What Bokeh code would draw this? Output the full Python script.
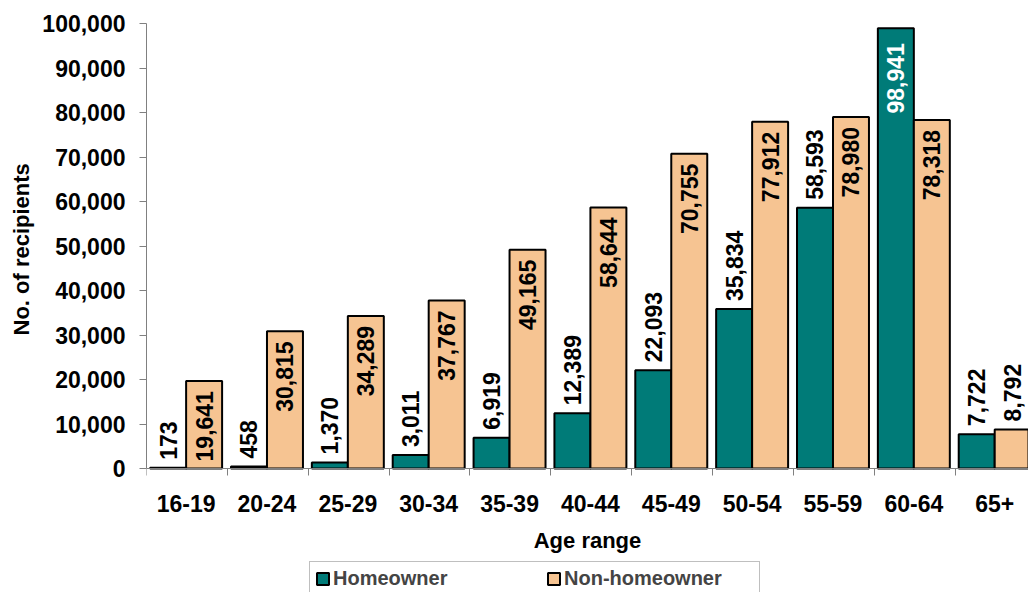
import math
from bokeh.plotting import figure
from bokeh.models import (ColumnDataSource, Range1d, FixedTicker, NumeralTickFormatter,
                          Legend, LegendItem, LinearAxis, Title)
from bokeh.core.properties import value
from bokeh.embed import file_html
from bokeh.resources import INLINE

# ---- data ----
categories = ["16-19", "20-24", "25-29", "30-34", "35-39", "40-44",
              "45-49", "50-54", "55-59", "60-64", "65+"]
homeowner = [173, 458, 1370, 3011, 6919, 12389, 22093, 35834, 58593, 98941, 7722]
non_homeowner = [19641, 30815, 34289, 37767, 49165, 58644, 70755, 77912, 78980, 78318, 8792]
y_ticks = [0, 10000, 20000, 30000, 40000, 50000, 60000, 70000, 80000, 90000, 100000]

TEAL = "#007B78"
TAN = "#F6C492"
FONT = "Liberation Sans"
AXIS_GREY = "#808080"

n = len(categories)
centers = [i + 0.49 for i in range(n)]
bar_w = 0.445
y_max = 100000
# the frame runs to the bottom of the page; the x axis sits at y = 0
y_min = -y_max * (592 - 468) / 445

p = figure(width=1028, height=592, output_backend="svg", toolbar_location=None,
           x_range=Range1d(0, 10.908), y_range=Range1d(y_min, y_max),
           x_axis_location=None,
           min_border_left=146, min_border_right=0, min_border_top=23,
           min_border_bottom=0)
p.outline_line_color = None
p.xgrid.visible = False
p.ygrid.visible = False
p.background_fill_color = "white"
p.border_fill_color = "white"

src_h = ColumnDataSource(dict(x=[c - bar_w / 2 for c in centers], top=homeowner))
src_n = ColumnDataSource(dict(x=[c + bar_w / 2 for c in centers], top=non_homeowner))
r_h = p.vbar(x="x", top="top", bottom=0, width=bar_w, source=src_h, fill_color=TEAL,
             line_color="black", line_width=2)
r_n = p.vbar(x="x", top="top", bottom=0, width=bar_w, source=src_n, fill_color=TAN,
             line_color="black", line_width=2)


def label_source(xs, vals, inside_rule, inside_color, inside_off):
    txt, align, off, col = [], [], [], []
    for v in vals:
        inside = inside_rule(v)
        txt.append(f"{v:,}")
        align.append("right" if inside else "left")
        off.append(inside_off if inside else -8)
        col.append(inside_color if inside else "black")
    return ColumnDataSource(dict(x=xs, y=vals, text=txt, align=align, off=off, col=col))


lab_h = label_source(src_h.data["x"], homeowner, lambda v: v > 90000, "white", 15)
lab_n = label_source(src_n.data["x"], non_homeowner, lambda v: v > 15000, "black", 10)
for src in (lab_h, lab_n):
    p.text(x="x", y="y", text="text", source=src, angle=math.pi / 2,
           text_align="align", text_baseline="middle", y_offset="off",
           text_color="col", text_font=value(FONT), text_font_style="bold",
           text_font_size="23px")

# ---- axes ----
xaxis = LinearAxis(fixed_location=0)
xaxis.ticker = FixedTicker(ticks=centers, minor_ticks=list(range(n + 1)))
xaxis.major_label_overrides = {c: cat for c, cat in zip(centers, categories)}
xaxis.major_tick_out = 0
xaxis.major_tick_in = 0
xaxis.minor_tick_out = 7
xaxis.minor_tick_in = 0
xaxis.major_label_standoff = 19
xaxis.axis_label = "Age range"
xaxis.axis_label_standoff = 13
p.add_layout(xaxis, "below")

p.yaxis.ticker = FixedTicker(ticks=y_ticks)
p.yaxis.formatter = NumeralTickFormatter(format="0,0")
p.yaxis.bounds = (0, y_max)
p.yaxis.major_tick_out = 7
p.yaxis.major_tick_in = 0
p.yaxis.major_label_standoff = 14

for ax in (xaxis, p.yaxis[0]):
    ax.axis_line_color = AXIS_GREY
    ax.major_tick_line_color = AXIS_GREY
    ax.minor_tick_line_color = AXIS_GREY
    ax.major_label_text_font = FONT
    ax.major_label_text_font_style = "bold"
    ax.major_label_text_font_size = "23px"
    ax.major_label_text_color = "black"
    ax.axis_label_text_font = FONT
    ax.axis_label_text_font_style = "bold"
    ax.axis_label_text_font_size = "22px"
    ax.axis_label_text_color = "black"
p.yaxis.minor_tick_line_color = None

# y axis title, placed along the 0..100,000 part of the axis
ytitle = Title(text="No. of recipients", align="left", offset=257, standoff=11,
               text_font=FONT, text_font_style="bold", text_font_size="22px",
               text_color="black")
p.add_layout(ytitle, "left")

# ---- legend ----
legend = Legend(items=[LegendItem(label="Homeowner", renderers=[r_h]),
                       LegendItem(label="Non-homeowner", renderers=[r_n])],
                orientation="horizontal", location=(163, -4),
                glyph_width=15, glyph_height=15, label_standoff=3,
                label_width=190, label_height=20, spacing=23, padding=5, margin=0,
                label_text_font=FONT, label_text_font_style="bold",
                label_text_font_size="20px", border_line_color=AXIS_GREY,
                border_line_width=1, background_fill_color="white",
                background_fill_alpha=1.0)
p.add_layout(legend, "center")

open("out.html", "w").write(file_html(p, INLINE))
